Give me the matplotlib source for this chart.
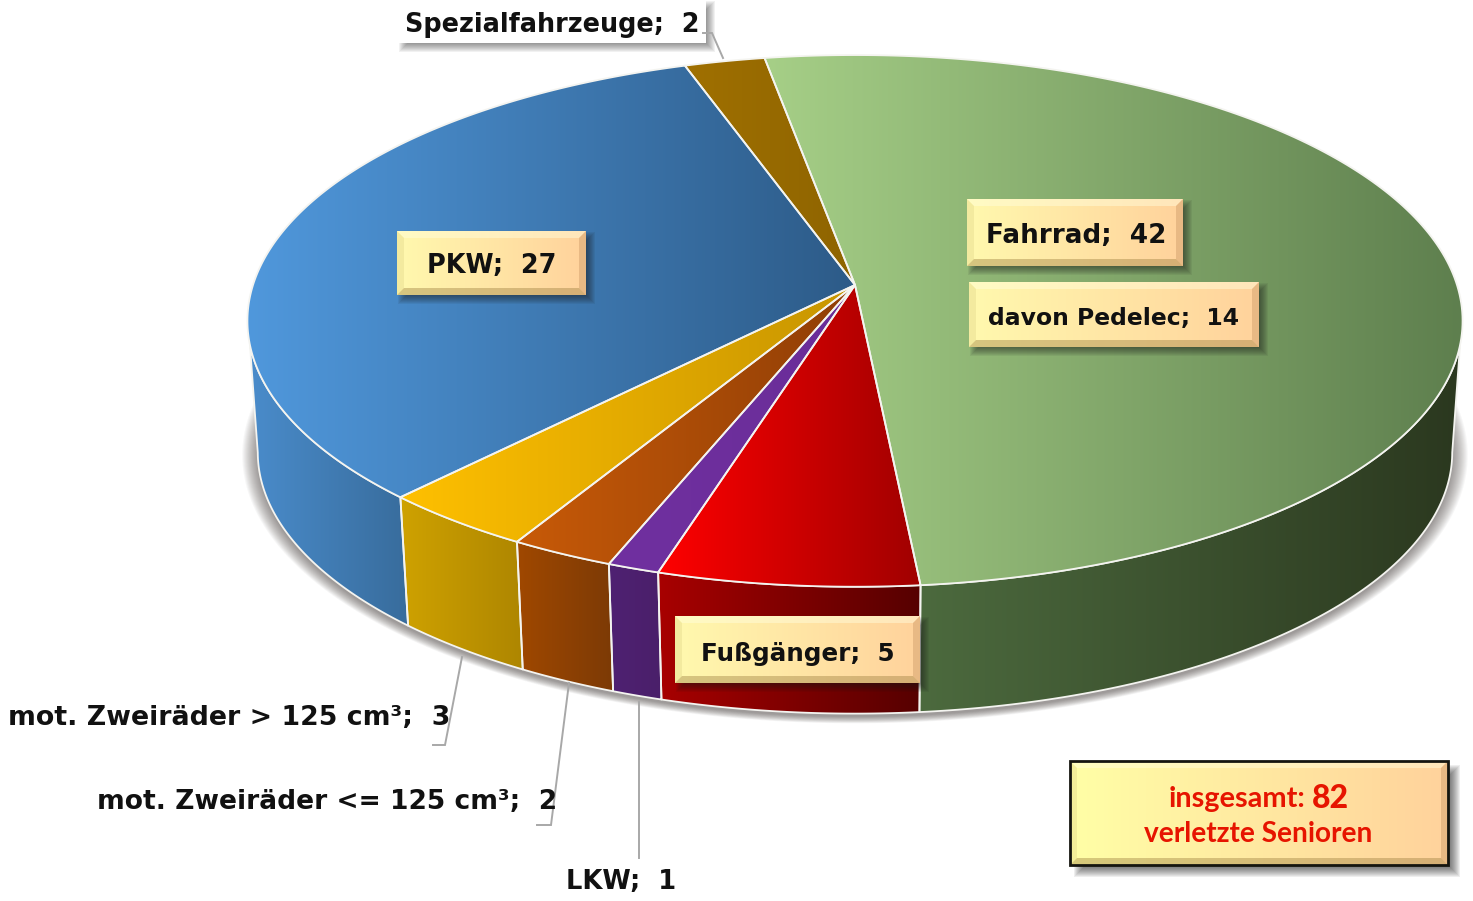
import numpy as np
import matplotlib
matplotlib.use('Agg')
import matplotlib.pyplot as plt
from matplotlib.patches import Polygon
from matplotlib.colors import to_rgb

# Data
categories = ['Fahrrad', 'Fußgänger', 'LKW', 'mot. Zweiräder <= 125 cm³',
              'mot. Zweiräder > 125 cm³', 'PKW', 'Spezialfahrzeuge']
values = [42, 5, 1, 2, 3, 27, 2]
pedelec = 14
total = sum(values)

# gradient colours per slice: top left/right, wall left/right
top_colors = [('#A6CF87', '#5E7F4E'), ('#FF0000', '#A00000'), ('#7030A0', '#6A2D98'),
              ('#C85A08', '#8F3E06'), ('#FFC000', '#C79500'), ('#5098DC', '#2D5B88'),
              ('#A07000', '#8E6400')]
wall_colors = [('#4C6A3E', '#2B381F'), ('#A80000', '#560000'), ('#4F2172', '#4A1F6A'),
               ('#A04800', '#7C3A06'), ('#CFA200', '#AE8600'), ('#4A8CCB', '#386C9C'),
               ('#7A5500', '#7A5500')]

# perspective of the disc, pixels of the picture
W, H = 1473, 901
cx, cy_top, cy_base = 855, 285, 417
rx, ry, k = 602, 261, 0.135
base_scale = 0.983
start_angle = -9.8


def disc_xy(ang, base=False):
    a = np.radians(ang)
    X, Y = np.sin(a), -np.cos(a)
    d = 1 - k * Y
    if base:
        return np.c_[cx + base_scale * rx * X / d, cy_base + base_scale * ry * Y / d]
    return np.c_[cx + rx * X / d, cy_top + ry * Y / d]


fig = plt.figure(figsize=(W / 100, H / 100), dpi=100, facecolor='white')
ax = fig.add_axes([0, 0, 1, 1])
ax.set_xlim(0, W)
ax.set_ylim(H, 0)
ax.axis('off')


def grad_fill(pts, c0, c1, z, edge='#F4F4F0', lw=1.3):
    x0, x1 = pts[:, 0].min(), pts[:, 0].max()
    y0, y1 = pts[:, 1].min(), pts[:, 1].max()
    t = np.linspace(0, 1, 256)[None, :, None]
    img = np.array(to_rgb(c0))[None, None, :] * (1 - t) + np.array(to_rgb(c1))[None, None, :] * t
    im = ax.imshow(img, extent=(x0, x1, y1, y0), aspect='auto', zorder=z, interpolation='bilinear')
    clip = Polygon(pts, closed=True, fc='none', ec=edge if lw else 'none', lw=lw, zorder=z + 0.1,
                   joinstyle='round')
    ax.add_patch(clip)
    im.set_clip_path(clip)
    ax.set_xlim(0, W)
    ax.set_ylim(H, 0)


# soft shadow under the disc
ring = disc_xy(np.linspace(0, 360, 400), base=True)
for i in range(16):
    s = 1.026 - i * 0.0017
    pts = np.c_[cx + (ring[:, 0] - cx) * s, cy_base + 38 + (ring[:, 1] - cy_base - 38) * s + 3]
    ax.add_patch(Polygon(pts, closed=True, fc=(0.25, 0.22, 0.2, 0.04), ec='none', zorder=1))

# walls, only the part of the rim that faces the viewer
top_vis = (102.9, 257.1)
base_vis = (97.8, 262.2)
edges = start_angle + np.cumsum([0] + values) * 360.0 / total
for i in range(len(values)):
    a0, a1 = edges[i], edges[i + 1]
    t0, t1 = max(a0, top_vis[0]), min(a1, top_vis[1])
    b0, b1 = max(a0, base_vis[0]), min(a1, base_vis[1])
    if t1 <= t0:
        continue
    top = disc_xy(np.linspace(t0, t1, 120))
    bot = disc_xy(np.linspace(b0, b1, 120), base=True)
    grad_fill(np.vstack([top, bot[::-1]]), *wall_colors[i], z=2)

# top faces
apex = np.array([[cx, cy_top]])
for i in range(len(values)):
    arc = disc_xy(np.linspace(edges[i], edges[i + 1], 200))
    grad_fill(np.vstack([apex, arc]), *top_colors[i], z=3)


def soft_shadow(x0, y0, x1, y1, off, z=4, a=0.07, n=10):
    for j in range(n):
        g = 4 - j
        ax.add_patch(Polygon([(x0 + off - g, y0 + off - g), (x1 + off + g, y0 + off - g),
                              (x1 + off + g, y1 + off + g), (x0 + off - g, y1 + off + g)],
                             fc=(0.1, 0.1, 0.1, a), ec='none', zorder=z))


def label_box(x0, y0, x1, y1, c0='#FFF9AE', c1='#FFD29C', bevel=7, border=None, shadow=5):
    soft_shadow(x0, y0, x1, y1, shadow)
    rect = np.array([(x0, y0), (x1, y0), (x1, y1), (x0, y1)], float)
    grad_fill(rect, c0, c1, z=5, lw=0)
    i0, i1, j0, j1 = x0 + bevel, x1 - bevel, y0 + bevel, y1 - bevel
    strips = [([(x0, y0), (x1, y0), (i1, j0), (i0, j0)], (1, 1, 0.88, 0.45)),
              ([(x0, y0), (i0, j0), (i0, j1), (x0, y1)], (0.85, 0.8, 0.5, 0.3)),
              ([(x1, y0), (x1, y1), (i1, j1), (i1, j0)], (0.7, 0.5, 0.3, 0.3)),
              ([(x0, y1), (i0, j1), (i1, j1), (x1, y1)], (0.62, 0.5, 0.25, 0.42))]
    for pts, col in strips:
        ax.add_patch(Polygon(pts, closed=True, fc=col, ec='none', zorder=5.5))
    if border:
        ax.add_patch(Polygon(rect, closed=True, fc='none', ec=border, lw=2, zorder=5.6))


comic = dict(family='DejaVu Sans', fontweight='bold', color='#111111', va='center', zorder=7)

label_box(967, 199, 1183, 266)
label_box(969, 282, 1259, 347)
label_box(397, 231, 586, 295)
label_box(675, 616, 920, 683)
label_box(1070, 761, 1448, 865, c0='#FFFFA6', border='#15150F', shadow=8)

# white box behind the top label
soft_shadow(398, 0, 706, 43, 5, a=0.06)
ax.add_patch(Polygon([(398, 0), (706, 0), (706, 43), (398, 43)], fc='white', ec='none', zorder=5))

# leader lines
lead = dict(color='#A8A8A8', lw=1.4, zorder=6, solid_joinstyle='miter')
ax.plot([462, 445, 433], [657, 745, 745], **lead)
ax.plot([569, 551, 537], [683, 825, 825], **lead)
ax.plot([639, 639], [702, 858], **lead)
ax.plot([703, 712, 723], [33, 33, 58], **lead)

idx = {c: v for c, v in zip(categories, values)}
ax.text(986, 236, f'Fahrrad;  {idx["Fahrrad"]}', fontsize=18.9, **comic)
ax.text(988, 318, f'davon Pedelec;  {pedelec}', fontsize=16.9, **comic)
ax.text(427, 266, f'PKW;  {idx["PKW"]}', fontsize=18.4, **comic)
ax.text(701, 654, f'Fußgänger;  {idx["Fußgänger"]}', fontsize=17.7, **comic)
ax.text(8, 718, f'mot. Zweiräder > 125 cm³;  {idx["mot. Zweiräder > 125 cm³"]}', fontsize=19.3, **comic)
ax.text(97, 802, f'mot. Zweiräder <= 125 cm³;  {idx["mot. Zweiräder <= 125 cm³"]}', fontsize=19.1, **comic)
ax.text(566, 882, f'LKW;  {idx["LKW"]}', fontsize=18.5, **comic)
ax.text(405, 25, f'Spezialfahrzeuge;  {idx["Spezialfahrzeuge"]}', fontsize=18.4, **comic)

red = dict(family='Lato', color='#E61400', va='center', zorder=7)
ax.text(1169, 799, 'insgesamt:', fontsize=20.8, fontweight='bold', **red)
ax.text(1312, 798, f'{total}', fontsize=23, fontweight='black', **red)
ax.text(1258, 834, 'verletzte Senioren', fontsize=20.2, fontweight='bold', ha='center', **red)

fig.savefig('out.png', dpi=100)
plt.close(fig)
